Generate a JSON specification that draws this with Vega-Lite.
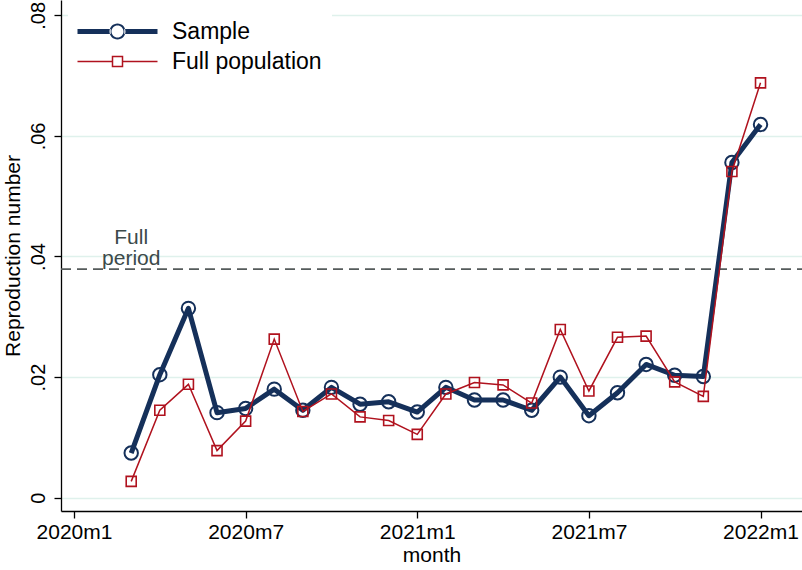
{
  "$schema": "https://vega.github.io/schema/vega-lite/v6.json",
  "autosize": "none",
  "width": 741,
  "height": 511,
  "padding": {"left": 61, "top": 0, "right": 0, "bottom": 59},
  "background": "white",
  "config": {
    "view": {"stroke": null},
    "font": "Liberation Sans",
    "axis": {
      "domainColor": "black", "domainWidth": 1.3,
      "tickColor": "black", "tickWidth": 1.3, "tickSize": 7,
      "labelFontSize": 21, "labelColor": "black", "labelFont": "Liberation Sans",
      "titleFontSize": 21, "titleColor": "black", "titleFontWeight": "normal", "titleFont": "Liberation Sans"
    }
  },
  "datasets": {
    "series": [
      {"t": 2, "month": "2020m3", "series": "Sample", "value": 0.0074},
      {"t": 3, "month": "2020m4", "series": "Sample", "value": 0.0204},
      {"t": 4, "month": "2020m5", "series": "Sample", "value": 0.0314},
      {"t": 5, "month": "2020m6", "series": "Sample", "value": 0.0141},
      {"t": 6, "month": "2020m7", "series": "Sample", "value": 0.0148},
      {"t": 7, "month": "2020m8", "series": "Sample", "value": 0.0180},
      {"t": 8, "month": "2020m9", "series": "Sample", "value": 0.0145},
      {"t": 9, "month": "2020m10", "series": "Sample", "value": 0.0183},
      {"t": 10, "month": "2020m11", "series": "Sample", "value": 0.0155},
      {"t": 11, "month": "2020m12", "series": "Sample", "value": 0.0159},
      {"t": 12, "month": "2021m1", "series": "Sample", "value": 0.0142},
      {"t": 13, "month": "2021m2", "series": "Sample", "value": 0.0183},
      {"t": 14, "month": "2021m3", "series": "Sample", "value": 0.0162},
      {"t": 15, "month": "2021m4", "series": "Sample", "value": 0.0162},
      {"t": 16, "month": "2021m5", "series": "Sample", "value": 0.0145},
      {"t": 17, "month": "2021m6", "series": "Sample", "value": 0.0200},
      {"t": 18, "month": "2021m7", "series": "Sample", "value": 0.0136},
      {"t": 19, "month": "2021m8", "series": "Sample", "value": 0.0174},
      {"t": 20, "month": "2021m9", "series": "Sample", "value": 0.0221},
      {"t": 21, "month": "2021m10", "series": "Sample", "value": 0.0203},
      {"t": 22, "month": "2021m11", "series": "Sample", "value": 0.0201},
      {"t": 23, "month": "2021m12", "series": "Sample", "value": 0.0556},
      {"t": 24, "month": "2022m1", "series": "Sample", "value": 0.0619},
      {"t": 2, "month": "2020m3", "series": "Full population", "value": 0.0027},
      {"t": 3, "month": "2020m4", "series": "Full population", "value": 0.0145},
      {"t": 4, "month": "2020m5", "series": "Full population", "value": 0.0188},
      {"t": 5, "month": "2020m6", "series": "Full population", "value": 0.0078},
      {"t": 6, "month": "2020m7", "series": "Full population", "value": 0.0127},
      {"t": 7, "month": "2020m8", "series": "Full population", "value": 0.0263},
      {"t": 8, "month": "2020m9", "series": "Full population", "value": 0.0143},
      {"t": 9, "month": "2020m10", "series": "Full population", "value": 0.0172},
      {"t": 10, "month": "2020m11", "series": "Full population", "value": 0.0134},
      {"t": 11, "month": "2020m12", "series": "Full population", "value": 0.0128},
      {"t": 12, "month": "2021m1", "series": "Full population", "value": 0.0105},
      {"t": 13, "month": "2021m2", "series": "Full population", "value": 0.0172},
      {"t": 14, "month": "2021m3", "series": "Full population", "value": 0.0191},
      {"t": 15, "month": "2021m4", "series": "Full population", "value": 0.0187},
      {"t": 16, "month": "2021m5", "series": "Full population", "value": 0.0157},
      {"t": 17, "month": "2021m6", "series": "Full population", "value": 0.0279},
      {"t": 18, "month": "2021m7", "series": "Full population", "value": 0.0177},
      {"t": 19, "month": "2021m8", "series": "Full population", "value": 0.0266},
      {"t": 20, "month": "2021m9", "series": "Full population", "value": 0.0268},
      {"t": 21, "month": "2021m10", "series": "Full population", "value": 0.0192},
      {"t": 22, "month": "2021m11", "series": "Full population", "value": 0.0168},
      {"t": 23, "month": "2021m12", "series": "Full population", "value": 0.0541},
      {"t": 24, "month": "2022m1", "series": "Full population", "value": 0.0688}
    ],
    "ref": [{"t": 2, "value": 0.0379, "label": "Full period"}]
  },
  "encoding": {
    "x": {
      "field": "t", "type": "quantitative",
      "scale": {"domain": [-0.4545, 25.45], "nice": false, "zero": false},
      "axis": {
        "title": "month", "values": [0, 6, 12, 18, 24], "grid": false,
        "labelExpr": "(2020 + floor(datum.value / 12)) + 'm' + (datum.value % 12 + 1)",
        "labelPadding": 3, "titlePadding": 2, "labelFlush": false
      }
    },
    "y": {
      "field": "value", "type": "quantitative",
      "scale": {"domain": [-0.00221, 0.08254], "nice": false, "zero": false},
      "axis": {
        "title": "Reproduction number", "values": [0, 0.02, 0.04, 0.06, 0.08],
        "labelExpr": "datum.value === 0 ? '0' : replace(format(datum.value, '.2f'), '0.', '.')",
        "grid": true, "gridColor": "#dff1ec", "gridWidth": 1.5,
        "labelAngle": -90, "labelAlign": "center", "labelBaseline": "bottom",
        "labelFontSize": 20,
        "labelPadding": 6, "titlePadding": 5, "labelFlush": false
      }
    }
  },
  "layer": [
    {
      "data": {"name": "ref"},
      "mark": {"type": "rule", "strokeDash": [10, 6], "strokeWidth": 1.8, "color": "#555b5b"},
      "encoding": {"x": {"value": 0}, "x2": {"value": 741}}
    },
    {
      "data": {"name": "ref"},
      "mark": {"type": "text", "text": ["Full", "period"], "fontSize": 21, "lineHeight": 21, "align": "center", "baseline": "bottom", "color": "#3c4a4a", "dy": -21}
    },
    {
      "data": {"name": "series"},
      "transform": [{"filter": "datum.series === 'Sample'"}],
      "mark": {"type": "line", "strokeWidth": 5, "strokeJoin": "round"},
      "encoding": {
        "color": {
          "field": "series", "type": "nominal",
          "scale": {"domain": ["Sample", "Full population"], "range": ["#15305a", "#b0121e"]},
          "legend": {
            "title": null, "orient": "none", "legendX": 7, "legendY": 10,
            "fillColor": "white", "padding": 10,
            "labelFontSize": 23, "labelColor": "black", "labelFont": "Liberation Sans", "labelOffset": 14,
            "symbolSize": 6400, "rowPadding": 6,
            "encode": {
              "symbols": {
                "update": {
                  "x": {"value": 39.5},
                  "shape": {"signal": "datum.value === 'Sample' ? 'M-1,-0.0625H-0.17V0.0625H-1ZM0.17,-0.0625H1V0.0625H0.17ZM-0.2,0A0.2,0.2 0 1,0 0.2,0A0.2,0.2 0 1,0 -0.2,0ZM-0.15,0A0.15,0.15 0 1,1 0.15,0A0.15,0.15 0 1,1 -0.15,0Z' : 'M-1,0H-0.125M0.125,0H1M-0.125,-0.125H0.125V0.125H-0.125Z'"},
                  "strokeWidth": {"signal": "datum.value === 'Sample' ? 0 : 1.5"},
                  "fill": {"signal": "datum.value === 'Sample' ? '#15305a' : 'transparent'"},
                  "fillOpacity": {"value": 1},
                  "opacity": {"value": 1}
                }
              },
              "labels": {
                "update": {
                  "x": {"value": 94}
                }
              }
            }
          }
        }
      }
    },
    {
      "data": {"name": "series"},
      "transform": [{"filter": "datum.series === 'Sample'"}],
      "mark": {"type": "point", "shape": "circle", "filled": false, "size": 180, "strokeWidth": 2, "opacity": 1},
      "encoding": {"color": {"field": "series", "type": "nominal"}}
    },
    {
      "data": {"name": "series"},
      "transform": [{"filter": "datum.series === 'Full population'"}],
      "mark": {"type": "line", "strokeWidth": 1.5},
      "encoding": {"color": {"field": "series", "type": "nominal"}}
    },
    {
      "data": {"name": "series"},
      "transform": [{"filter": "datum.series === 'Full population'"}],
      "mark": {"type": "point", "shape": "square", "filled": false, "size": 100, "strokeWidth": 1.6, "opacity": 1},
      "encoding": {"color": {"field": "series", "type": "nominal"}}
    }
  ]
}
